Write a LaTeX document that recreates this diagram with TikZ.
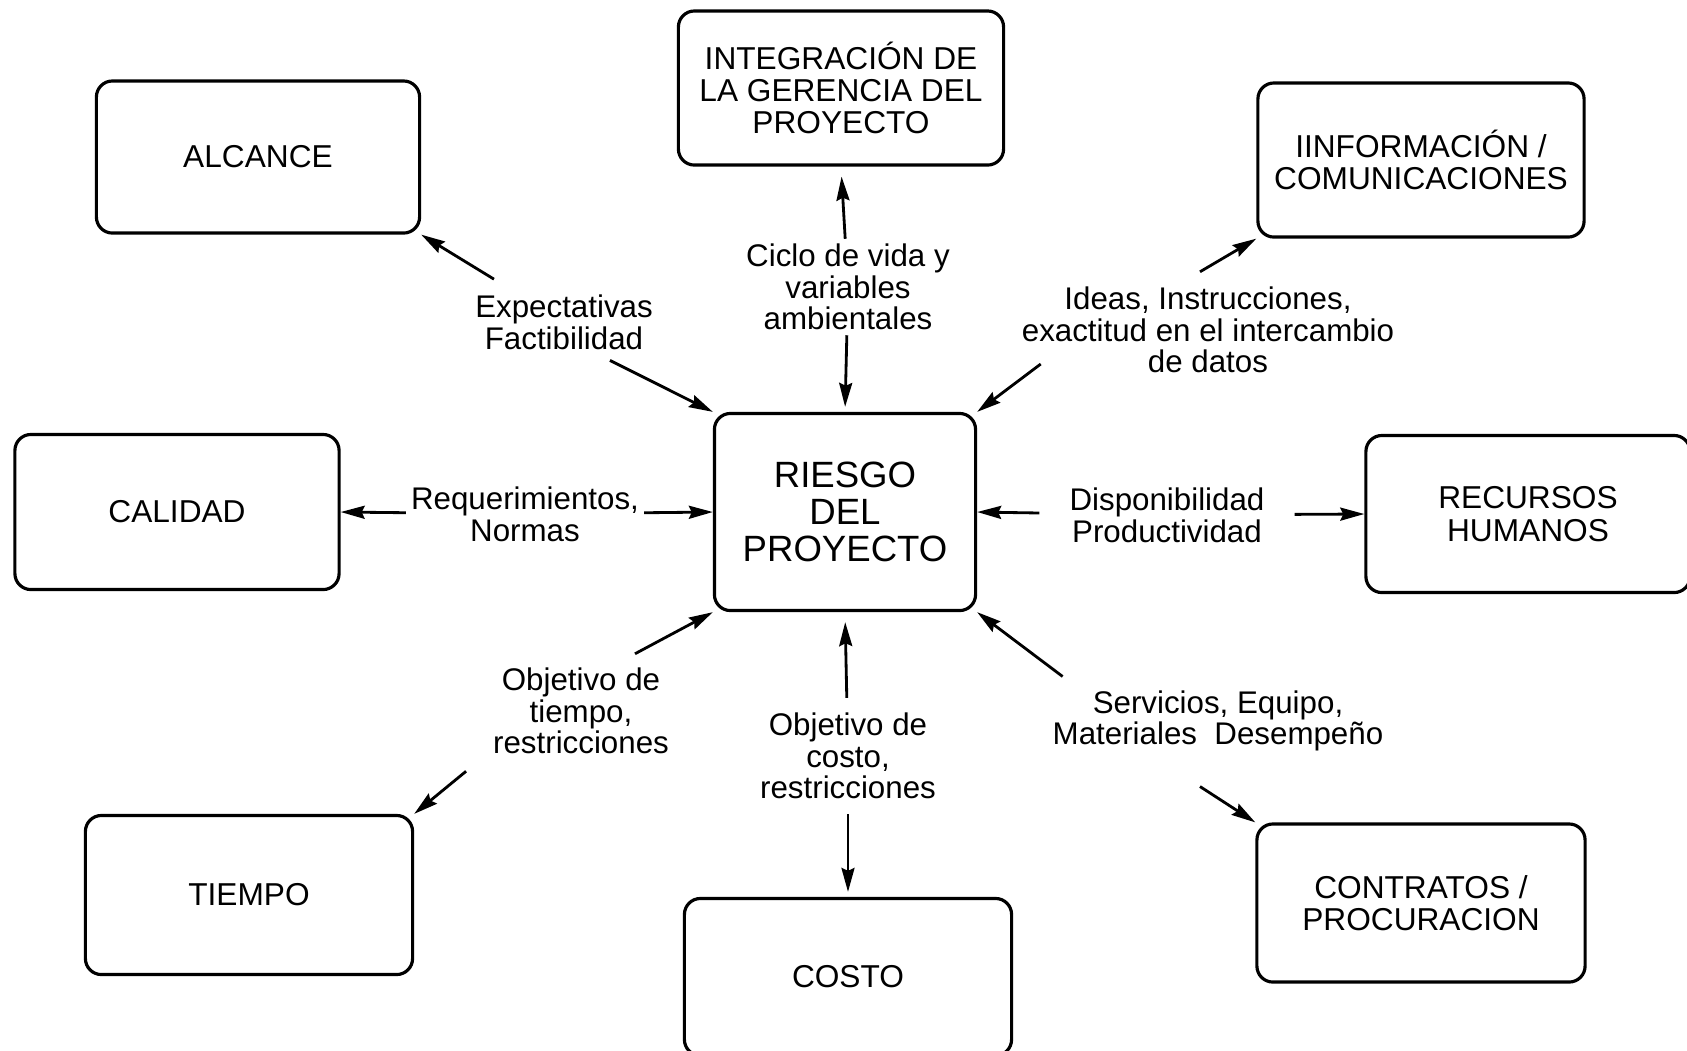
\documentclass[tikz,border=0pt]{standalone}
\usepackage{fontspec}
\setmainfont{Liberation Sans}
\usetikzlibrary{arrows.meta}

\begin{document}
\begin{tikzpicture}[x=0.01cm, y=-0.01cm, >={Stealth[length=2.4mm,width=1.3mm,inset=0.3mm]}, line width=0.9pt, align=center]

    \tikzstyle{caja}=[draw=black, rounded corners=1.6mm, font=\fontsize{9}{9.2}\selectfont, inner sep=0pt]
    \tikzstyle{etiqueta}=[font=\fontsize{8.9}{9}\selectfont, inner sep=1pt]
    \tikzstyle{flecha}=[->, line width=0.8pt]

    \useasboundingbox (0,0) rectangle (1687,1050);

    % cajas
    \node[caja, minimum width=2.61cm, minimum height=1.97cm, font=\fontsize{10.4}{10.6}\selectfont] (riesgo) at (845,512) {RIESGO\\DEL\\PROYECTO};
    \node[caja, minimum width=3.23cm, minimum height=1.52cm] (alcance) at (258,157) {ALCANCE};
    \node[caja, minimum width=3.25cm, minimum height=1.54cm] (integracion) at (841,88) {INTEGRACIÓN DE\\LA GERENCIA DEL\\PROYECTO};
    \node[caja, minimum width=3.26cm, minimum height=1.54cm] (informacion) at (1421,160) {IINFORMACIÓN /\\COMUNICACIONES};
    \node[caja, minimum width=3.24cm, minimum height=1.55cm] (calidad) at (177,512) {CALIDAD};
    \node[caja, minimum width=3.24cm, minimum height=1.57cm] (recursos) at (1528,514) {RECURSOS\\HUMANOS};
    \node[caja, minimum width=3.27cm, minimum height=1.59cm] (tiempo) at (249,895) {TIEMPO};
    \node[caja, minimum width=3.27cm, minimum height=1.57cm] (costo) at (848,977) {COSTO};
    \node[caja, minimum width=3.28cm, minimum height=1.58cm] (contratos) at (1421,903) {CONTRATOS /\\PROCURACION};

    % etiquetas
    \node[etiqueta] (expectativas) at (564,322) {Expectativas\\Factibilidad};
    \node[etiqueta] (ciclo) at (848,287) {Ciclo de vida y\\variables\\ambientales};
    \node[etiqueta] (ideas) at (1208,330) {Ideas, Instrucciones,\\exactitud en el intercambio\\de datos};
    \node[etiqueta] (requerimientos) at (525,514) {Requerimientos,\\Normas};
    \node[etiqueta] (disponibilidad) at (1167,515) {Disponibilidad\\Productividad};
    \node[etiqueta] (objtiempo) at (581,711) {Objetivo de\\tiempo,\\restricciones};
    \node[etiqueta] (objcosto) at (848,756) {Objetivo de\\costo,\\restricciones};
    \node[etiqueta] (servicios) at (1218,721) {Servicios, Equipo,\\Materiales\ \ Desempeño};

    % flechas
    \draw[flecha, shorten <=2mm] (expectativas) -- (alcance.south east);
    \draw[flecha] ([shift={(46,6)}]expectativas.south) -- (riesgo.north west);
    \draw[flecha, shorten >=1mm] (ciclo) -- (integracion.south);
    \draw[flecha, shorten >=0.5mm] (ciclo) -- (riesgo.north);
    \draw[flecha] ([shift={(-8,-10)}]ideas.north) -- (informacion.south west);
    \draw[flecha] ([shift={(24,34)}]ideas.west) -- (riesgo.north east);
    \draw[flecha] (requerimientos) -- (calidad.east);
    \draw[flecha] (requerimientos) -- (riesgo.west);
    \draw[flecha, shorten <=2.5mm] (disponibilidad) -- (riesgo.east);
    \draw[flecha, shorten <=2.5mm] (disponibilidad) -- (recursos.west);
    \draw[flecha] ([shift={(54,-9)}]objtiempo.north) -- (riesgo.south west);
    \draw[flecha] ([shift={(-22,12)}]objtiempo.south west) -- (tiempo.north east);
    \draw[flecha, shorten <=1mm, shorten >=1mm] (objcosto) -- (riesgo.south);
    \draw[flecha, shorten <=1mm, shorten >=0.5mm] (objcosto) -- (costo.north);
    \draw[flecha] ([shift={(15,-9)}]servicios.north west) -- (riesgo.south east);
    \draw[flecha] ([shift={(-18,30)}]servicios.south) -- (contratos.north west);
\end{tikzpicture}
\end{document}
